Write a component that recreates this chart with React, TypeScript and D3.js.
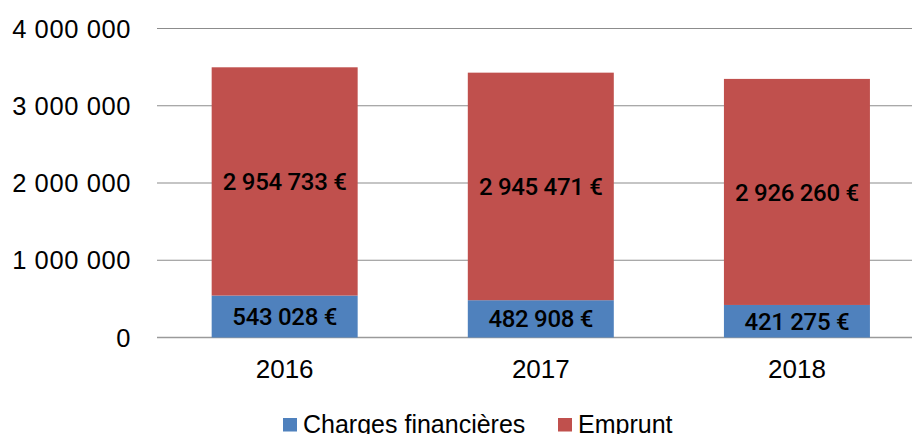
import React from "react";
import * as d3 from "d3";

const categories = ["2016", "2017", "2018"];
const chargesFinancieres = [543028, 482908, 421275];
const emprunt = [2954733, 2945471, 2926260];
const yTicks = [0, 1000000, 2000000, 3000000, 4000000];
const seriesNames = ["Charges financières", "Emprunt"];
const seriesColors = ["#4f81bd", "#c0504d"];

const W = 912;
const H = 434;

const fmtNum = (v: number) => d3.format(",")(v).replace(/,/g, "\u00a0");
const fmtEuro = (v: number) => fmtNum(v) + "\u00a0€";

export default function App() {
  const x = d3
    .scaleBand<string>()
    .domain(categories)
    .range([156.6, 925])
    .paddingInner(0.43)
    .paddingOuter(0.215);
  const y = d3.scaleLinear().domain([0, 4000000]).range([337.5, 28.5]);

  const rows = categories.map((c, i) => ({
    cat: c,
    charges: chargesFinancieres[i],
    emprunt: emprunt[i],
  }));
  const stack = d3.stack<any>().keys(["charges", "emprunt"])(rows);

  const axisFont = "'Liberation Sans', Arial, sans-serif";
  const labelFont = "Roboto, 'Noto Sans', sans-serif";

  return (
    <svg
      width={W}
      height={H}
      style={{ position: "absolute", left: 0, top: 0, background: "#fff" }}
    >
      {/* gridlines */}
      {yTicks.map((t) => (
        <line
          key={t}
          x1={157}
          x2={W}
          y1={y(t)}
          y2={y(t)}
          stroke={t === 0 ? "#9a9a9a" : "#8c8c8c"}
          strokeWidth={t === 0 ? 1.5 : 1.2}
        />
      ))}
      {/* y tick labels */}
      {yTicks.map((t) => (
        <text
          key={"t" + t}
          x={131}
          y={y(t)}
          dy="0.36em"
          textAnchor="end"
          fontFamily={axisFont}
          fontSize={25.5}
          letterSpacing={0.6}
          fill="#000"
        >
          {fmtNum(t)}
        </text>
      ))}
      {/* bars */}
      {stack.map((s, si) => (
        <g key={si} fill={seriesColors[si]}>
          {s.map((d: any, i: number) => (
            <rect
              key={i}
              x={x(categories[i])}
              width={x.bandwidth()}
              y={y(d[1])}
              height={y(d[0]) - y(d[1])}
            />
          ))}
        </g>
      ))}
      {/* data labels */}
      {stack.map((s, si) =>
        s.map((d: any, i: number) => (
          <text
            key={"l" + si + i}
            x={(x(categories[i]) as number) + x.bandwidth() / 2}
            y={(y(d[0]) + y(d[1])) / 2}
            dy="0.36em"
            textAnchor="middle"
            fontFamily={labelFont}
            fontWeight={500}
            fontSize={24}
            letterSpacing={-0.3}
            fill="#000"
          >
            {fmtEuro(d[1] - d[0])}
          </text>
        ))
      )}
      {/* category labels */}
      {categories.map((c) => (
        <text
          key={"c" + c}
          x={(x(c) as number) + x.bandwidth() / 2}
          y={378.3}
          textAnchor="middle"
          fontFamily={axisFont}
          fontSize={26}
          fill="#000"
        >
          {c}
        </text>
      ))}
      {/* legend */}
      {seriesNames.map((n, i) => {
        const lx = [283, 558][i];
        return (
          <g key={n}>
            <rect x={lx} y={418} width={14} height={13.5} fill={seriesColors[i]} />
            <text
              x={lx + 20}
              y={433}
              fontFamily={axisFont}
              fontSize={25}
              fill="#000"
            >
              {n}
            </text>
          </g>
        );
      })}
    </svg>
  );
}
